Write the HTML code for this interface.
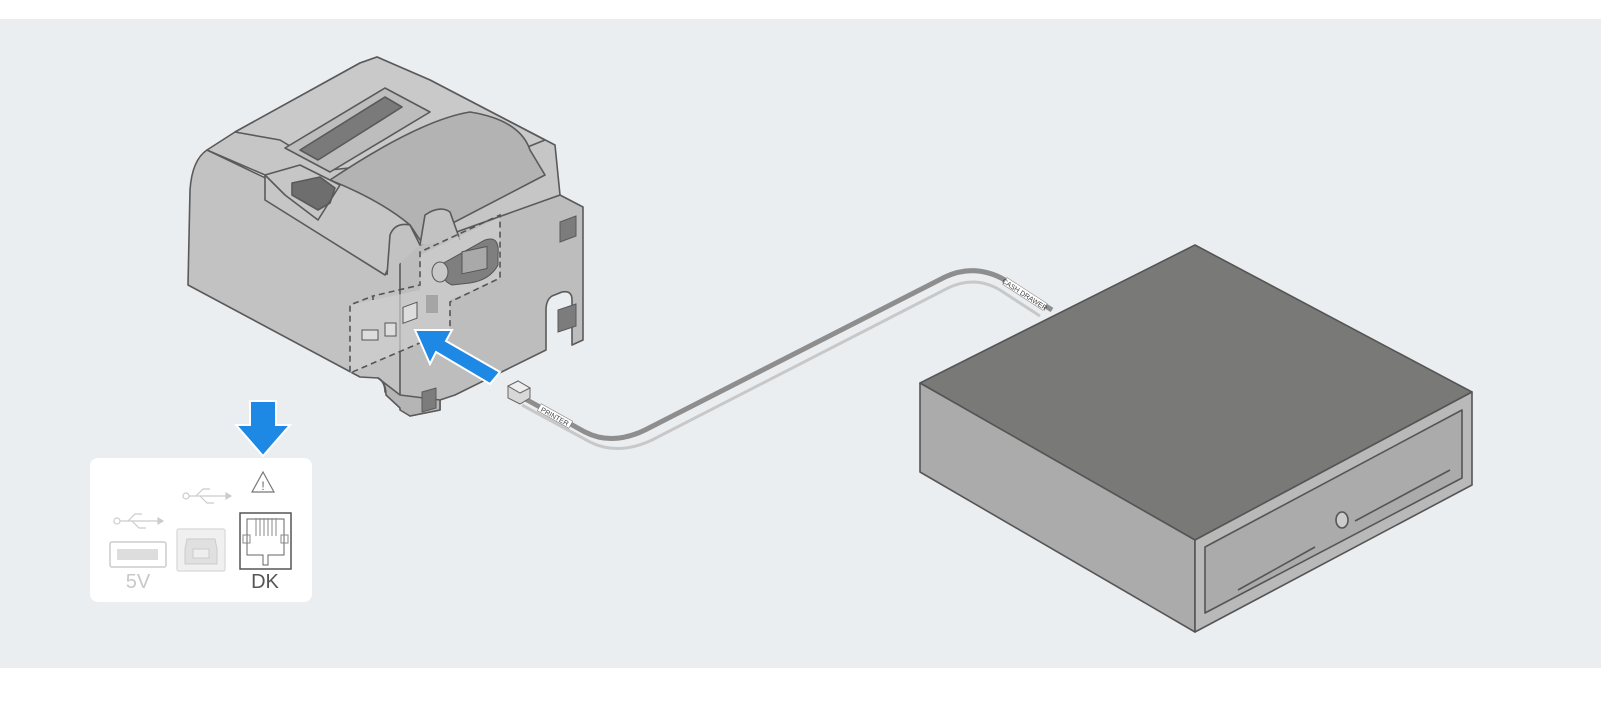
<!DOCTYPE html>
<html><head><meta charset="utf-8"><style>
html,body{margin:0;padding:0;background:#fff;}
body{width:1601px;height:704px;position:relative;overflow:hidden;font-family:"Liberation Sans",sans-serif;}
#bg{position:absolute;left:0;top:19px;width:1601px;height:649px;background:#ebeef1;}
svg{position:absolute;left:0;top:0;}
</style></head><body>
<div id="bg"></div>
<svg width="1601" height="704" viewBox="0 0 1601 704" xmlns="http://www.w3.org/2000/svg">
<g stroke="#5a5a5a" stroke-width="1.6" stroke-linejoin="round">
<path d="M397,250 L560,195 L583,207 L583,340 L572,345 L572,300 Q572,290 562,292 L552,296 Q546,300 546,310 L546,350 L455,395 L440,400 L440,410 L410,416 L400,408 Z" fill="#bdbdbd"/>
<path d="M207,150 Q192,160 190,190 L188,285 L360,377 L378,378 Q385,382 385,392 L400,400 L400,250 L395,240 Z" fill="#c2c2c2"/>
<path d="M378,378 Q386,382 386,395 L400,408 L400,410 L410,416 L440,410 L440,400 L400,395 Z" fill="#b5b5b5"/>
<path d="M207,150 L235,132 L360,63 L377,57 L430,80 L555,145 L560,195 L420,245 L397,250 L385,275 L265,200 L265,175 Z" fill="#c6c6c6"/>
<path d="M235,132 L360,63 L377,57 L430,80 L545,140 L520,150 L330,170 L280,140 Z" fill="#c9c9c9"/>
<path d="M285,148 L385,88 L430,112 L330,172 Z" fill="#bdbdbd"/>
<path d="M300,150 L385,97 L402,107 L318,160 Z" fill="#7a7a7a"/>
<path d="M330,180 Q420,120 470,112 Q520,120 530,150 L545,175 L420,240 L410,225 Q380,200 330,180 Z" fill="#b3b3b3"/>
<path d="M292,183 L320,177 L335,188 L330,203 L318,210 L292,195 Z" fill="#6e6e6e"/>
<path d="M265,175 L300,165 L340,185 L318,220 L285,195 Z" fill="none"/>
<path d="M387,275 L390,235 Q395,222 410,225 L420,245" fill="#c2c2c2"/>
<path d="M420,245 L425,215 Q440,205 450,212 L460,240" fill="#c2c2c2"/>
</g>
<g fill="#7c7c7c" stroke="#5a5a5a">
<polygon points="560,222 576,216 576,236 560,242"/>
<polygon points="558,310 576,304 576,326 558,332"/>
<polygon points="422,392 436,388 436,408 422,412"/>
</g>
<polygon points="350,305 350,373 450,330 450,300 500,278 500,217 420,255 420,290" fill="#cfcfcf" opacity="0.7"/>
<polyline points="373,300 373,296 420,285 420,252 500,215 500,278 450,302 450,330 350,373 350,305 373,296" fill="none" stroke="#555" stroke-width="1.6" stroke-dasharray="6,4"/>
<path d="M440,265 L485,240 Q500,235 498,255 L498,265 Q490,280 470,283 L452,285 Q440,280 440,265 Z" fill="#7f7f7f" stroke="#555"/>
<rect x="462" y="250" width="25" height="22" fill="#a9a9a9" stroke="#555" transform="skewY(-12) translate(0,100)"/>
<ellipse cx="440" cy="272" rx="8" ry="10" fill="#c8c8c8" stroke="#555"/>
<rect x="403" y="309" width="14" height="16" fill="#ddd" stroke="#555" transform="skewY(-20) translate(0,145)"/>
<rect x="385" y="323" width="11" height="13" fill="#ddd" stroke="#555"/>
<rect x="362" y="330" width="16" height="10" fill="#ddd" stroke="#555"/>
<rect x="426" y="295" width="12" height="18" fill="#a5a5a5"/>
<polygon points="415,330 452,330 446,341 500,372 490,384 436,352 430,364" fill="#1e88e5" stroke="#fff" stroke-width="2"/>
<!-- cable -->
<path d="M522,405 L590,442 Q618,456 652,440 L948,288 Q975,275 1000,290 L1040,316" fill="none" stroke="#c8c8c8" stroke-width="3"/>
<path d="M520,396 L585,432 Q612,446 645,430 L945,277 Q975,263 1005,280 L1052,310" fill="none" stroke="#8e8e8e" stroke-width="5"/>
<g transform="translate(555,416) rotate(29)"><rect x="-18" y="-4" width="36" height="8" fill="#fff" stroke="#777" stroke-width="0.5"/><text x="0" y="3" font-size="7" text-anchor="middle" fill="#444">PRINTER</text></g>
<g transform="translate(1025,294) rotate(33)"><rect x="-24" y="-4" width="48" height="8" fill="#fff" stroke="#777" stroke-width="0.5"/><text x="0" y="3" font-size="7" text-anchor="middle" fill="#444">CASH DRAWER</text></g>
<polygon points="508,386 518,381 530,388 530,398 520,404 508,398" fill="#d8d8d8" stroke="#666"/>
<polygon points="508,386 518,381 530,388 520,393" fill="#eee" stroke="#666"/>
<g stroke="#555" stroke-width="1.6" stroke-linejoin="round">
<polygon points="1195,245 1472,392 1195,540 920,383" fill="#797977"/>
<polygon points="920,383 1195,540 1195,632 920,472" fill="#ababab"/>
<polygon points="1195,540 1472,392 1472,485 1195,632" fill="#b9b9b9"/>
<polygon points="1205,547 1462,410 1462,478 1205,613" fill="#ababab"/>
<line x1="1238" y1="590" x2="1315" y2="547"/>
<line x1="1355" y1="521" x2="1450" y2="470"/>
<ellipse cx="1342" cy="520" rx="6" ry="8" fill="#ccc"/>
</g>
<rect x="90" y="458" width="222" height="144" rx="8" fill="#fff"/>
<polygon points="250,401 276,401 276,425 290,425 263,456 236,425 250,425" fill="#1e88e5" stroke="#fff" stroke-width="2"/>
<polygon points="263,472 274,492 252,492" fill="none" stroke="#777" stroke-width="1.2"/>
<text x="263" y="490" font-size="12" text-anchor="middle" fill="#666">!</text>
<g stroke="#ccc" fill="none" stroke-width="1.2"><circle cx="117" cy="521" r="3"/><line x1="120" y1="521" x2="158" y2="521"/><path d="M128,521 L135,514 L142,514"/><path d="M132,521 L139,528 L146,528"/><polygon points="158,518 163,521 158,524" fill="#ccc"/>
<circle cx="186" cy="496" r="3"/><line x1="189" y1="496" x2="226" y2="496"/><path d="M196,496 L203,489 L210,489"/><path d="M200,496 L207,503 L214,503"/><polygon points="226,493 231,496 226,499" fill="#ccc"/></g>
<rect x="110" y="542" width="56" height="25" rx="2" fill="#fff" stroke="#ccc" stroke-width="1.5"/>
<rect x="117" y="549" width="41" height="11" fill="#ddd"/>
<rect x="177" y="529" width="48" height="42" rx="2" fill="#f0f0f0" stroke="#ddd" stroke-width="1.5"/>
<path d="M187,539 L215,539 L217,549 L217,564 L185,564 L185,549 Z" fill="#e0e0e0" stroke="#ccc"/>
<rect x="193" y="549" width="16" height="9" fill="#eee" stroke="#ccc"/>
<rect x="240" y="513" width="51" height="56" fill="#fff" stroke="#555" stroke-width="1.5"/>
<path d="M247,519 L284,519 L284,555 L268,555 L268,565 L263,565 L263,555 L247,555 Z" fill="none" stroke="#666"/>
<g stroke="#888" stroke-width="1"><line x1="256" y1="518" x2="256" y2="536"/><line x1="260" y1="518" x2="260" y2="536"/><line x1="264" y1="518" x2="264" y2="536"/><line x1="268" y1="518" x2="268" y2="536"/><line x1="272" y1="518" x2="272" y2="536"/><line x1="276" y1="518" x2="276" y2="536"/></g>
<rect x="243" y="535" width="7" height="8" fill="none" stroke="#888"/><rect x="281" y="535" width="7" height="8" fill="none" stroke="#888"/>
<text x="138" y="588" font-size="20" text-anchor="middle" fill="#c8c8c8">5V</text>
<text x="265" y="588" font-size="20" text-anchor="middle" fill="#555">DK</text>
</svg>
</body></html>
